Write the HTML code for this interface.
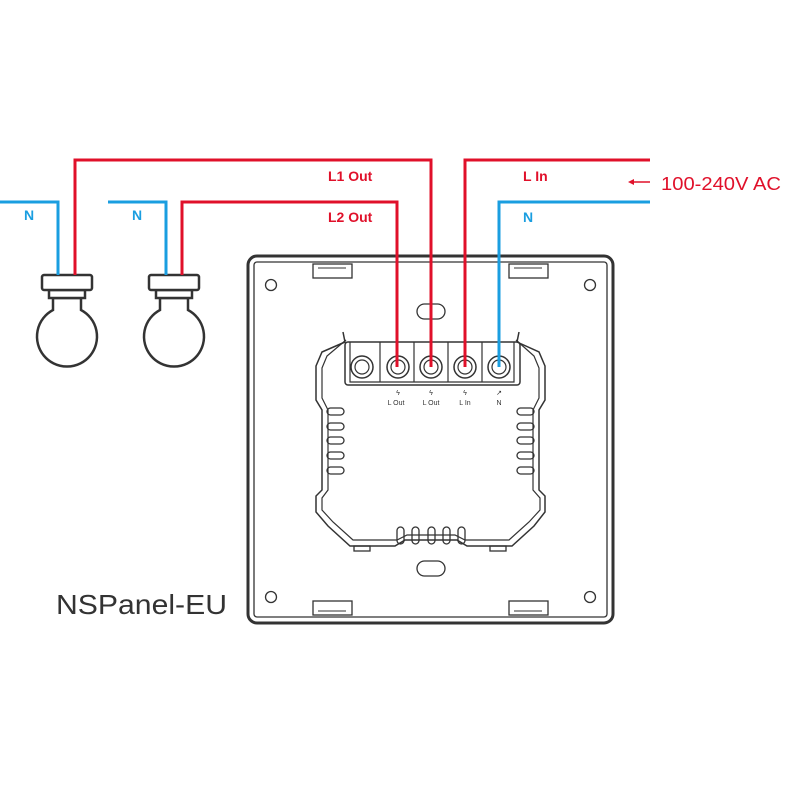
<!DOCTYPE html>
<html><head><meta charset="utf-8"><style>
html,body{margin:0;padding:0;background:#fff;}
svg{display:block;}
</style></head><body>
<svg width="800" height="800" viewBox="0 0 800 800" xmlns="http://www.w3.org/2000/svg" font-family="Liberation Sans, sans-serif">
<rect width="800" height="800" fill="#fff"/>
<!-- panel -->
<g fill="none" stroke="#333" stroke-width="2">
<rect x="248" y="256" width="365" height="367" rx="9" stroke-width="3"/>
<rect x="254" y="262" width="353" height="355" rx="3" stroke-width="1.3"/>
<circle cx="271" cy="285" r="5.5" stroke-width="1.3"/>
<circle cx="590" cy="285" r="5.5" stroke-width="1.3"/>
<circle cx="271" cy="597" r="5.5" stroke-width="1.3"/>
<circle cx="590" cy="597" r="5.5" stroke-width="1.3"/>
<rect x="417" y="304" width="28" height="15" rx="7.5" stroke-width="1.3"/>
<rect x="417" y="561" width="28" height="15" rx="7.5" stroke-width="1.3"/>
<rect x="313" y="264" width="39" height="14" stroke-width="1.3"/>
<rect x="509" y="264" width="39" height="14" stroke-width="1.3"/>
<rect x="313" y="601" width="39" height="14" stroke-width="1.3"/>
<rect x="509" y="601" width="39" height="14" stroke-width="1.3"/>
<path d="M318 268h28M514 268h28M318 611h28M514 611h28" stroke-width="1"/>
<!-- frame -->
<path stroke-width="1.5" d="M343 332 L345 342 L322 352 L316 366 L316 400 L322 410 L322 490 L316 496 L316 512 L328 526 L350 546 L395 546 L405 540 L457 540 L467 546 L512 546 L534 526 L545 512 L545 496 L539 490 L539 410 L545 400 L545 366 L539 352 L517 342 L519 332"/>
<path stroke-width="1.2" d="M346 340 L327 356 L322 368 L322 398 L328 410 L328 490 L322 498 L322 510 L333 522 L353 540 L397 540 L407 535 L455 535 L465 540 L509 540 L529 522 L540 510 L540 498 L533 490 L533 410 L539 398 L539 368 L534 356 L516 340"/>
<rect x="345" y="342" width="175" height="43" rx="3" stroke-width="1.5"/>
<path d="M350 342v40h164v-40M380 342v40M414 342v40M448 342v40M482 342v40" stroke-width="1.2"/>
<circle cx="362" cy="367" r="11" stroke-width="1.5"/><circle cx="362" cy="367" r="7" stroke-width="1.2"/>
<circle cx="398" cy="367" r="11" stroke-width="1.5"/><circle cx="398" cy="367" r="7" stroke-width="1.2"/>
<circle cx="431" cy="367" r="11" stroke-width="1.5"/><circle cx="431" cy="367" r="7" stroke-width="1.2"/>
<circle cx="465" cy="367" r="11" stroke-width="1.5"/><circle cx="465" cy="367" r="7" stroke-width="1.2"/>
<circle cx="499" cy="367" r="11" stroke-width="1.5"/><circle cx="499" cy="367" r="7" stroke-width="1.2"/>
<g stroke-width="1.3">
<rect x="327" y="408" width="17" height="7" rx="3.5"/><rect x="327" y="423" width="17" height="7" rx="3.5"/><rect x="327" y="437" width="17" height="7" rx="3.5"/><rect x="327" y="452" width="17" height="7" rx="3.5"/><rect x="327" y="467" width="17" height="7" rx="3.5"/>
<rect x="517" y="408" width="17" height="7" rx="3.5"/><rect x="517" y="423" width="17" height="7" rx="3.5"/><rect x="517" y="437" width="17" height="7" rx="3.5"/><rect x="517" y="452" width="17" height="7" rx="3.5"/><rect x="517" y="467" width="17" height="7" rx="3.5"/>
<rect x="397" y="527" width="7" height="17" rx="3.5"/><rect x="412" y="527" width="7" height="17" rx="3.5"/><rect x="428" y="527" width="7" height="17" rx="3.5"/><rect x="443" y="527" width="7" height="17" rx="3.5"/><rect x="458" y="527" width="7" height="17" rx="3.5"/>
<rect x="354" y="546" width="16" height="5"/><rect x="490" y="546" width="16" height="5"/>
</g>
</g>
<g font-size="7" fill="#333" text-anchor="middle">
<text x="398" y="395">ϟ</text><text x="431" y="395">ϟ</text><text x="465" y="395">ϟ</text><text x="499" y="395">↗</text>
<text x="396" y="405">L Out</text><text x="431" y="405">L Out</text><text x="465" y="405">L In</text><text x="499" y="405">N</text>
</g>
<!-- bulbs -->
<g fill="#fff" stroke="#333" stroke-width="2.5">
<path d="M53 298 L53 310 A30 30 0 1 0 81 310 L81 298Z"/>
<rect x="49" y="290" width="36" height="8"/>
<rect x="42" y="275" width="50" height="15" rx="2"/>
<path d="M160 298 L160 310 A30 30 0 1 0 188 310 L188 298Z"/>
<rect x="156" y="290" width="36" height="8"/>
<rect x="149" y="275" width="50" height="15" rx="2"/>
</g>
<!-- wires -->
<g fill="none" stroke-width="3">
<path d="M0 202 H58 V275" stroke="#1a9ee0"/>
<path d="M108 202 H166 V275" stroke="#1a9ee0"/>
<path d="M650 202 H499 V367" stroke="#1a9ee0"/>
<path d="M75 275 V160 H431 V367" stroke="#e0102a"/>
<path d="M182 275 V202 H397 V367" stroke="#e0102a"/>
<path d="M650 160 H465 V367" stroke="#e0102a"/>
<path d="M650 182 H632" stroke="#e0102a" stroke-width="1.5"/>
</g>
<path d="M628 182 l6 -3 v6z" fill="#e0102a"/>
<g font-weight="bold" font-size="14" fill="#e0102a">
<text x="328" y="181">L1 Out</text><text x="328" y="222">L2 Out</text><text x="523" y="181">L In</text>
</g>
<g font-weight="bold" font-size="14" fill="#1a9ee0">
<text x="24" y="220">N</text><text x="132" y="220">N</text><text x="523" y="222">N</text>
</g>
<text x="661" y="190" font-size="18" fill="#e0102a" textLength="120" lengthAdjust="spacingAndGlyphs">100-240V AC</text>
<text x="56" y="614" font-size="28" fill="#333" textLength="171" lengthAdjust="spacingAndGlyphs">NSPanel-EU</text>
</svg>
</body></html>
